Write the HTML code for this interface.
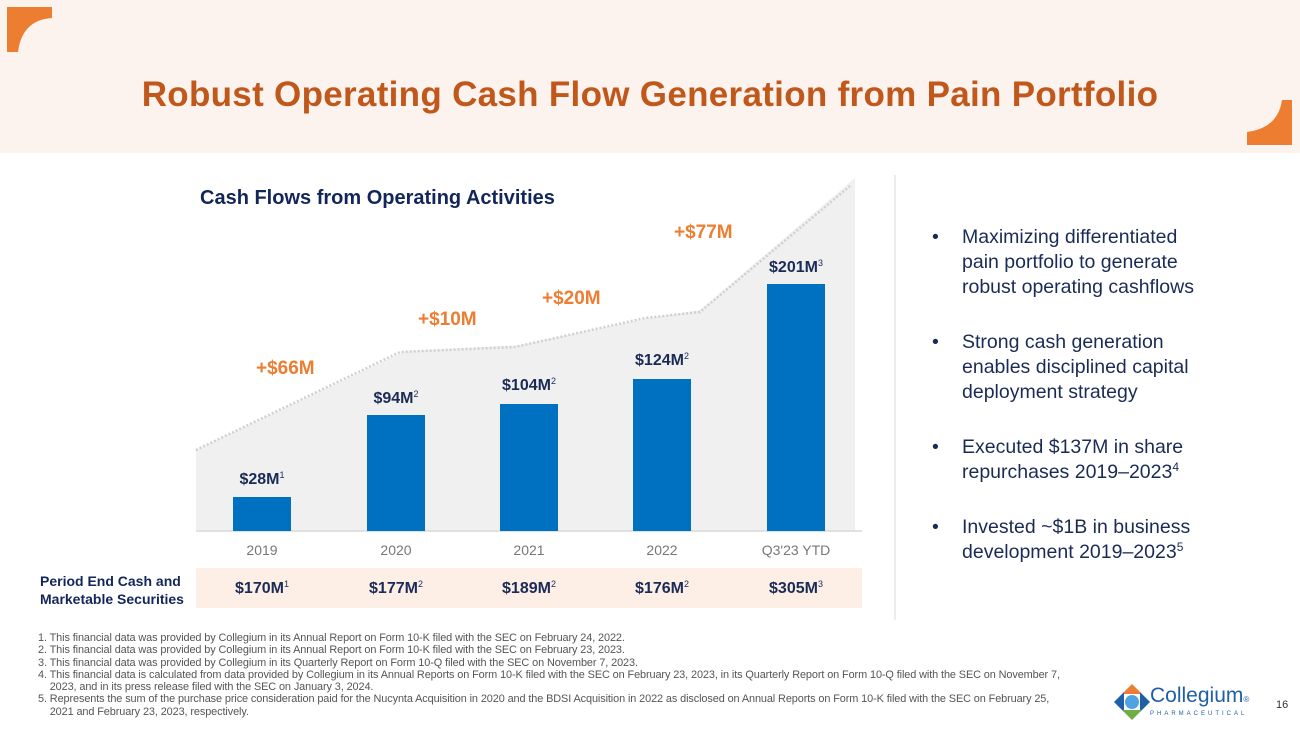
<!DOCTYPE html>
<html><head><meta charset="utf-8"><style>
*{margin:0;padding:0;box-sizing:border-box}
body{width:1300px;height:731px;overflow:hidden;background:#fff;font-family:"Liberation Sans",sans-serif;position:relative}
.abs{position:absolute}
.hdr{left:0;top:0;width:1300px;height:153px;background:#fdf3ee}
.title{left:0;width:1300px;top:75px;text-align:center;color:#c0571b;font-size:35px;font-weight:bold;letter-spacing:0.3px}
.bar{background:#0070c0;width:58px}
.lbl{color:#1a2b55;font-weight:bold;font-size:16px;width:120px;text-align:center;line-height:18px}
.lbl sup,.cell sup{font-size:9px;font-weight:normal;vertical-align:6px;line-height:0}
.delta{color:#ed7d31;font-weight:bold;font-size:19px}
.yr{color:#777;font-size:14px;width:120px;text-align:center;top:542px}
.cell{top:580px;color:#1a2b55;font-weight:bold;font-size:16px;width:120px;text-align:center;line-height:18px}
.bul{left:932px;color:#1a2b55;font-size:19.5px;line-height:25px;width:300px}
.bul span{position:absolute;left:30px;top:0;width:245px}
.bul sup{font-size:12px;vertical-align:7px;line-height:0}
.fn{left:38px;color:#555;font-size:10.9px;line-height:12.3px;width:1100px;letter-spacing:-0.1px}
</style></head><body>
<div class="abs hdr"></div>
<svg class="abs" style="left:0;top:0" width="1300" height="160">
<path d="M7 7 L52 7 L52 18 Q22 20 18 52 L7 52 Z" fill="#ed7d31"/>
<path d="M1292 145 L1292 100 L1282 100 Q1278 128 1247 132 L1247 145 Z" fill="#ed7d31"/>
</svg>
<div class="abs title">Robust Operating Cash Flow Generation from Pain Portfolio</div>
<svg class="abs" style="left:0;top:0" width="1300" height="731">
<polygon points="196,450 405,351 520,345 648,318 700,310 855,178 855,531 196,531" fill="#f0f0f0"/>
<polyline points="196,450 400,352 515,347 645,318 700,312 850,186" fill="none" stroke="#d0d0d0" stroke-width="2.5" stroke-dasharray="2,2"/>
<line x1="196" y1="531" x2="862" y2="531" stroke="#d9d9d9" stroke-width="1.5"/>
<rect x="196" y="568" width="666" height="40" fill="#fdeee6"/>
<line x1="895" y1="175" x2="895" y2="620" stroke="#d9d9d9" stroke-width="1"/>
</svg>
<div class="abs" style="left:200px;top:187px;color:#13265a;font-weight:bold;font-size:20px">Cash Flows from Operating Activities</div>
<div class="abs bar" style="left:233px;top:497px;height:34px"></div>
<div class="abs bar" style="left:367px;top:415px;height:116px"></div>
<div class="abs bar" style="left:500px;top:404px;height:127px"></div>
<div class="abs bar" style="left:633px;top:379px;height:152px"></div>
<div class="abs bar" style="left:767px;top:284px;height:247px"></div>
<div class="abs lbl" style="left:202px;top:471px">$28M<sup>1</sup></div>
<div class="abs lbl" style="left:336px;top:390px">$94M<sup>2</sup></div>
<div class="abs lbl" style="left:469px;top:377px">$104M<sup>2</sup></div>
<div class="abs lbl" style="left:602px;top:352px">$124M<sup>2</sup></div>
<div class="abs lbl" style="left:736px;top:259px">$201M<sup>3</sup></div>
<div class="abs delta" style="left:256px;top:358px">+$66M</div>
<div class="abs delta" style="left:418px;top:309px">+$10M</div>
<div class="abs delta" style="left:542px;top:288px">+$20M</div>
<div class="abs delta" style="left:674px;top:222px">+$77M</div>
<div class="abs yr" style="left:202px">2019</div>
<div class="abs yr" style="left:336px">2020</div>
<div class="abs yr" style="left:469px">2021</div>
<div class="abs yr" style="left:602px">2022</div>
<div class="abs yr" style="left:736px">Q3'23 YTD</div>
<div class="abs" style="left:40px;top:572px;color:#13265a;font-weight:bold;font-size:14px;line-height:18px">Period End Cash and<br>Marketable Securities</div>
<div class="abs cell" style="left:202px">$170M<sup>1</sup></div>
<div class="abs cell" style="left:336px">$177M<sup>2</sup></div>
<div class="abs cell" style="left:469px">$189M<sup>2</sup></div>
<div class="abs cell" style="left:602px">$176M<sup>2</sup></div>
<div class="abs cell" style="left:736px">$305M<sup>3</sup></div>
<div class="abs bul" style="top:225px">•<span>Maximizing differentiated pain portfolio to generate robust operating cashflows</span></div>
<div class="abs bul" style="top:330px">•<span>Strong cash generation enables disciplined capital deployment strategy</span></div>
<div class="abs bul" style="top:435px">•<span>Executed $137M in share repurchases 2019–2023<sup>4</sup></span></div>
<div class="abs bul" style="top:515px">•<span>Invested ~$1B in business development 2019–2023<sup>5</sup></span></div>
<div class="abs fn" style="top:632px">1. This financial data was provided by Collegium in its Annual Report on Form 10-K filed with the SEC on February 24, 2022.<br>
2. This financial data was provided by Collegium in its Annual Report on Form 10-K filed with the SEC on February 23, 2023.<br>
3. This financial data was provided by Collegium in its Quarterly Report on Form 10-Q filed with the SEC on November 7, 2023.<br>
4. This financial data is calculated from data provided by Collegium in its Annual Reports on Form 10-K filed with the SEC on February 23, 2023, in its Quarterly Report on Form 10-Q filed with the SEC on November 7,<br>&nbsp;&nbsp;&nbsp;&nbsp;2023, and in its press release filed with the SEC on January 3, 2024.<br>
5. Represents the sum of the purchase price consideration paid for the Nucynta Acquisition in 2020 and the BDSI Acquisition in 2022 as disclosed on Annual Reports on Form 10-K filed with the SEC on February 25,<br>&nbsp;&nbsp;&nbsp;&nbsp;2021 and February 23, 2023, respectively.</div>
<svg class="abs" style="left:1112px;top:682px" width="40" height="42">
<polygon points="20,2 30,12 10,12" fill="#ed7d31"/>
<polygon points="2,20 12,10 12,30" fill="#1f5fa8"/>
<polygon points="38,20 28,10 28,30" fill="#1f5fa8"/>
<polygon points="20,38 30,28 10,28" fill="#70ad47"/>
<circle cx="20" cy="20" r="7" fill="#4fa3e0"/>
</svg>
<div class="abs" style="left:1150px;top:684px;color:#1f5fa8;font-size:21px">Collegium<span style="font-size:8px">®</span></div>
<div class="abs" style="left:1150px;top:711px;color:#1f5fa8;font-size:6px;letter-spacing:3px">PHARMACEUTICAL</div>
<div class="abs" style="left:1276px;top:699px;color:#333;font-size:11px">16</div>
</body></html>
